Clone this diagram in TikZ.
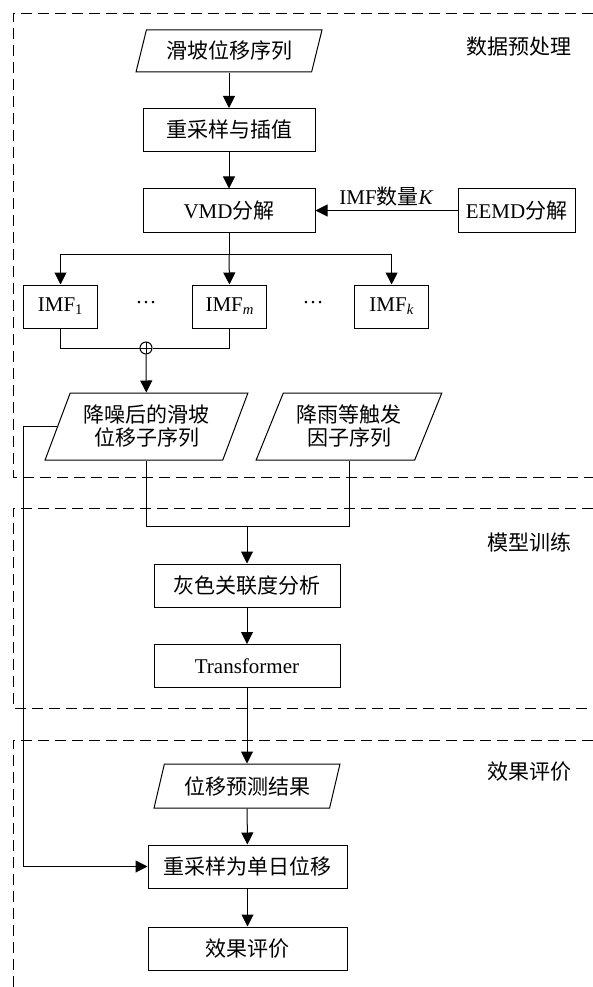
\documentclass[tikz,border=0pt]{standalone}
\usepackage{fontspec}
\setmainfont{Liberation Serif}
\newfontfamily\cjk{Noto Sans CJK SC}
\usetikzlibrary{shapes.geometric,arrows.meta}
\newcommand\zh[1]{{\cjk #1}}
\begin{document}
\begin{tikzpicture}[x=1pt,y=-1pt,
  every node/.style={font=\fontsize{21}{23}\selectfont, inner sep=0pt},
  box/.style={draw, line width=1pt, minimum width=172pt, minimum height=43pt},
  smallbox/.style={draw, line width=1pt, minimum width=74pt, minimum height=43pt},
  para/.style={draw, line width=1pt, trapezium, trapezium left angle=68, trapezium right angle=112, trapezium stretches=true, minimum width=186pt, minimum height=42pt, align=center},
  arr/.style={line width=1pt, -{Triangle[length=12pt,width=12pt]}},
  ln/.style={line width=1pt},
  frame/.style={line width=0.9pt, dash pattern=on 11pt off 6pt}
]
\useasboundingbox (0,0) rectangle (593,987);
% frames
\draw[frame] (593,13) -- (13,13) -- (13,477) -- (593,477);
\draw[frame] (593,508) -- (13,508) -- (13,708) -- (593,708);
\draw[frame] (593,740) -- (13,740) -- (13,987);
% section labels
\node (s1) at (519,47) {\zh{数据预处理}};
\node (s2) at (529,542) {\zh{模型训练}};
\node (s3) at (529,772) {\zh{效果评价}};
% nodes
\node[para] (src) at (229,51) {\zh{滑坡位移序列}};
\node[box] (resample) at (229,130) {\zh{重采样与插值}};
\node[box] (vmd) at (229,210.5) {VMD\zh{分解}};
\node[box, minimum width=117pt] (eemd) at (516.5,210.5) {EEMD\zh{分解}};
\node[smallbox] (imf1) at (60.5,306.5) {IMF\textsubscript{1}};
\node[smallbox] (imfm) at (229.8,306.5) {IMF\textsubscript{\itshape m}};
\node[smallbox] (imfk) at (391.6,306.5) {IMF\textsubscript{\itshape k}};
\node (dots1) at (146,303) {…};
\node (dots2) at (313,303) {…};
\node[circle, draw, line width=1pt, minimum size=12pt, path picture={\draw[line width=0.8pt] (path picture bounding box.north) -- (path picture bounding box.south) (path picture bounding box.west) -- (path picture bounding box.east);}] (plus) at (146,348) {};
\node[para, minimum width=203pt, minimum height=67pt, trapezium left angle=64, trapezium right angle=116] (den) at (146.5,426.5) {\zh{降噪后的滑坡}\\\zh{位移子序列}};
\node[para, minimum width=186pt, minimum height=67pt, trapezium left angle=63, trapezium right angle=117] (trig) at (349,426.5) {\zh{降雨等触发}\\\zh{因子序列}};
\node[box, minimum width=186pt] (gray) at (247,585.5) {\zh{灰色关联度分析}};
\node[box, minimum width=186pt] (trans) at (247,666) {Transformer};
\node[para, minimum height=44pt] (pred) at (247,786) {\zh{位移预测结果}};
\node[box, minimum width=199pt] (resday) at (247.5,866.5) {\zh{重采样为单日位移}};
\node[box, minimum width=199pt] (eval) at (247.5,948.5) {\zh{效果评价}};
% coordinates
\coordinate (bus) at (229,254);
\coordinate (lft) at (23.5,426.5);
\coordinate (join) at (247,526);
% connectors
\draw[arr] (src) -- (resample);
\draw[arr] (resample) -- (vmd);
\draw[arr] (eemd) -- node[above=4pt] (klab) {IMF\zh{数量}\textit{K}} (vmd);
\draw[ln] (vmd) -- (bus);
\draw[arr] (bus) -| (imf1);
\draw[arr] (bus) -| (imfk);
\draw[arr] (bus) -- (imfm);
\draw[ln] (imf1) |- (plus);
\draw[ln] (imfm) |- (plus);
\draw[arr] (plus) -- (den);
\draw[arr] (den.left side) -- (lft) |- (resday);
\draw[ln] (den) |- (join);
\draw[ln] (trig) |- (join);
\draw[arr] (join) -- (gray);
\draw[arr] (gray) -- (trans);
\draw[arr] (trans) -- (pred);
\draw[arr] (pred) -- (resday);
\draw[arr] (resday) -- (eval);
\end{tikzpicture}
\end{document}
